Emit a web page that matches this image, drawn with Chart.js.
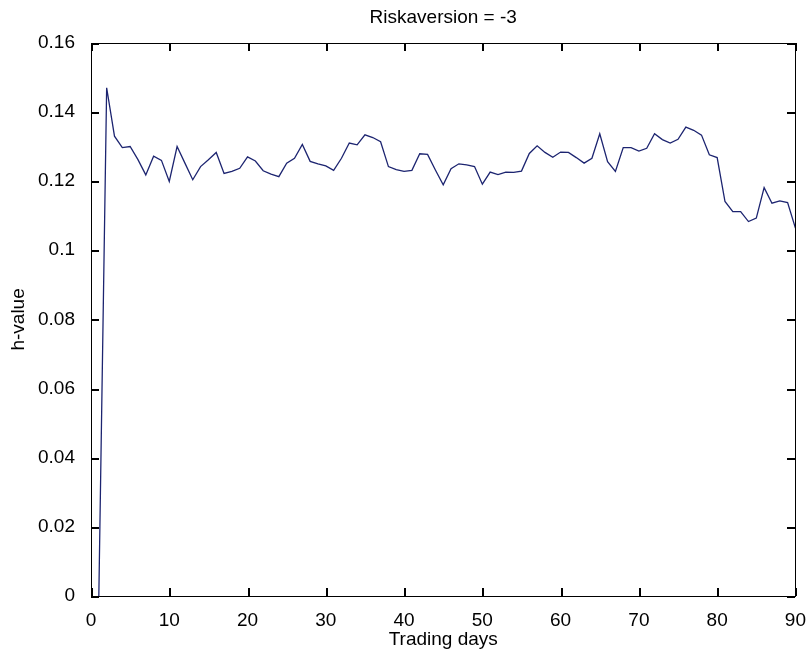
<!DOCTYPE html>
<html>
<head>
<meta charset="utf-8">
<script src="https://cdn.jsdelivr.net/npm/chart.js@4.4.1/dist/chart.umd.min.js"></script>
<style>
  html, body { margin: 0; padding: 0; background: #fff; }
  #chart { display: block; }
</style>
</head>
<body>
<canvas id="chart" width="811" height="659"></canvas>
<script>
// h-value per trading day
const days = [
  1, 2, 3, 4, 5, 6, 7, 8, 9, 10,
  11, 12, 13, 14, 15, 16, 17, 18, 19, 20,
  21, 22, 23, 24, 25, 26, 27, 28, 29, 30,
  31, 32, 33, 34, 35, 36, 37, 38, 39, 40,
  41, 42, 43, 44, 45, 46, 47, 48, 49, 50,
  51, 52, 53, 54, 55, 56, 57, 58, 59, 60,
  61, 62, 63, 64, 65, 66, 67, 68, 69, 70,
  71, 72, 73, 74, 75, 76, 77, 78, 79, 80,
  81, 82, 83, 84, 85, 86, 87, 88, 89, 90
];
const hValues = [
  0.0000, 0.1470, 0.1330, 0.1297, 0.1300, 0.1262, 0.1218, 0.1272, 0.1260, 0.1199,
  0.1300, 0.1252, 0.1204, 0.1242, 0.1262, 0.1283, 0.1222, 0.1228, 0.1237, 0.1270,
  0.1258, 0.1230, 0.1220, 0.1213, 0.1252, 0.1266, 0.1306, 0.1257, 0.1250, 0.1244,
  0.1231, 0.1266, 0.1310, 0.1305, 0.1334, 0.1326, 0.1314, 0.1242, 0.1233, 0.1228,
  0.1231, 0.1279, 0.1277, 0.1232, 0.1189, 0.1236, 0.1250, 0.1247, 0.1242, 0.1191,
  0.1226, 0.1219, 0.1226, 0.1225, 0.1229, 0.1280, 0.1302, 0.1283, 0.1269, 0.1284,
  0.1283, 0.1268, 0.1252, 0.1266, 0.1337, 0.1256, 0.1228, 0.1297, 0.1297, 0.1287,
  0.1295, 0.1337, 0.1320, 0.1310, 0.1321, 0.1356, 0.1347, 0.1333, 0.1276, 0.1268,
  0.1141, 0.1112, 0.1112, 0.1083, 0.1093, 0.1181, 0.1136, 0.1143, 0.1138, 0.1064
];

const xTicks = [0, 10, 20, 30, 40, 50, 60, 70, 80, 90];
const xTickLabels = ['0', '10', '20', '30', '40', '50', '60', '70', '80', '90'];
const yTicks = [0, 0.02, 0.04, 0.06, 0.08, 0.1, 0.12, 0.14, 0.16];
const yTickLabels = ['0', '0.02', '0.04', '0.06', '0.08', '0.1', '0.12', '0.14', '0.16'];

const FONT = "'Liberation Sans', Arial, sans-serif";
const TICK_LEN = 8;

// matlab style box with inward ticks on all four sides
const matlabAxes = {
  id: 'matlabAxes',
  afterDraw(chart) {
    const ctx = chart.ctx;
    const area = chart.chartArea;
    const l = Math.round(area.left), r = Math.round(area.right);
    const t = Math.round(area.top), b = Math.round(area.bottom);
    ctx.save();
    ctx.fillStyle = '#000';
    chart.scales.x.ticks.forEach(tk => {
      const px = Math.round(chart.scales.x.getPixelForValue(tk.value));
      ctx.fillRect(px, b - TICK_LEN, 2, TICK_LEN);
      ctx.fillRect(px, t, 2, TICK_LEN);
    });
    chart.scales.y.ticks.forEach(tk => {
      const py = Math.round(chart.scales.y.getPixelForValue(tk.value));
      ctx.fillRect(l, py, TICK_LEN, 2);
      ctx.fillRect(r - TICK_LEN, py, TICK_LEN, 2);
    });
    // box
    ctx.fillRect(l, t, r - l + 1, 1);
    ctx.fillRect(l, b, r - l + 1, 1);
    ctx.fillRect(l, t, 1, b - t + 1);
    ctx.fillRect(r, t, 1, b - t + 1);
    ctx.restore();
  }
};

new Chart(document.getElementById('chart'), {
  type: 'line',
  data: {
    datasets: [{
      label: 'h-value',
      data: days.map((d, i) => ({ x: d, y: hValues[i] })),
      borderColor: '#1c2470',
      borderWidth: 1.3,
      pointRadius: 0,
      tension: 0,
      fill: false
    }]
  },
  options: {
    responsive: false,
    animation: false,
    layout: { padding: { left: 0, right: 15, top: 0, bottom: 0 } },
    plugins: {
      legend: { display: false },
      tooltip: { enabled: false },
      title: {
        display: true,
        text: 'Riskaversion = -3',
        fullSize: false,
        color: '#000',
        font: { family: FONT, size: 19, weight: 'normal' },
        padding: { top: 6, bottom: 14 }
      }
    },
    scales: {
      x: {
        type: 'linear',
        min: 0,
        max: 90,
        grid: { display: false },
        border: { display: false },
        afterBuildTicks: s => { s.ticks = xTicks.map(v => ({ value: v })); },
        afterFit: s => { s.height = 63; },
        ticks: {
          color: '#000',
          padding: 5,
          maxRotation: 0,
          font: { family: FONT, size: 19 },
          callback: (v, i) => xTickLabels[i]
        },
        title: {
          display: true,
          text: 'Trading days',
          color: '#000',
          font: { family: FONT, size: 19 },
          padding: { top: 0, bottom: 8 }
        }
      },
      y: {
        min: 0,
        max: 0.16,
        grid: { display: false },
        border: { display: false },
        afterBuildTicks: s => { s.ticks = yTicks.map(v => ({ value: v })); },
        afterFit: s => { s.width = 91; },
        ticks: {
          color: '#000',
          padding: 8,
          font: { family: FONT, size: 19 },
          callback: (v, i) => yTickLabels[i]
        },
        title: {
          display: true,
          text: 'h-value',
          color: '#000',
          font: { family: FONT, size: 19 },
          padding: { top: 7, bottom: 0 }
        }
      }
    }
  },
  plugins: [matlabAxes]
});
</script>
</body>
</html>
